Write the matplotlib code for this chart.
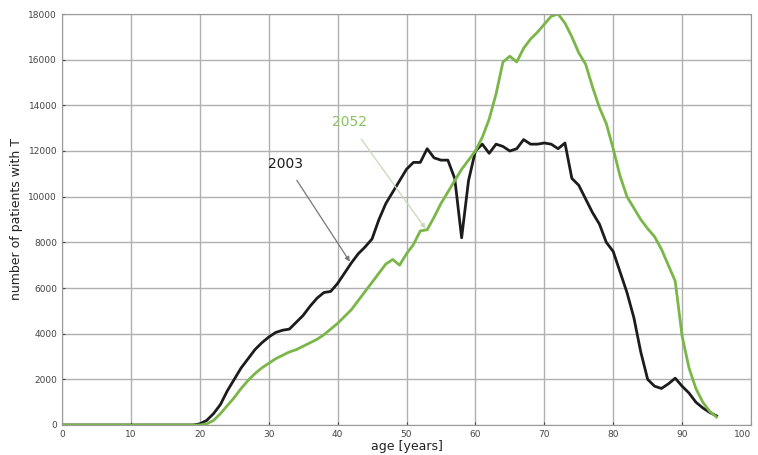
import numpy as np
import matplotlib
matplotlib.use("Agg")
import matplotlib.pyplot as plt

# ages 0..95 (one value per year)
age = np.arange(0, 96)

patients_2003 = [0] * 20 + [
    50, 200, 500, 900, 1500, 2000, 2500, 2900, 3300, 3600,      # 20-29
    3850, 4050, 4150, 4200, 4500, 4800, 5200, 5550, 5800, 5850,  # 30-39
    6200, 6650, 7100, 7500, 7800, 8150, 9000, 9700, 10200, 10700,  # 40-49
    11200, 11500, 11500, 12100, 11700, 11600, 11600, 10800, 8200, 10700,  # 50-59
    12000, 12300, 11900, 12300, 12200, 12000, 12100, 12500, 12300, 12300,  # 60-69
    12350, 12300, 12100, 12350, 10800, 10500, 9900, 9300, 8800, 8000,  # 70-79
    7600, 6700, 5800, 4700, 3200, 2000, 1700, 1600, 1800, 2050,  # 80-89
    1700, 1400, 1000, 750, 550, 400,                             # 90-95
]

patients_2052 = [0] * 20 + [
    0, 50, 200, 500, 850, 1200, 1600, 1950, 2250, 2500,          # 20-29
    2700, 2900, 3050, 3200, 3300, 3450, 3600, 3750, 3950, 4200,  # 30-39
    4450, 4750, 5050, 5450, 5850, 6250, 6650, 7050, 7250, 7000,  # 40-49
    7500, 7900, 8500, 8550, 9100, 9700, 10200, 10700, 11200, 11600,  # 50-59
    12000, 12600, 13400, 14500, 15900, 16150, 15900, 16500, 16900, 17200,  # 60-69
    17550, 17900, 18000, 17600, 17000, 16300, 15800, 14800, 13900, 13200,  # 70-79
    12100, 10900, 10000, 9500, 9000, 8600, 8250, 7700, 7000, 6300,  # 80-89
    3900, 2500, 1600, 1000, 600, 350,                            # 90-95
]

fig = plt.figure(figsize=(7.58, 4.55), dpi=100)
ax = fig.add_axes([62 / 758, 1 - 425 / 455, (751 - 62) / 758, (425 - 14) / 455])

ax.plot(age, patients_2003, color="#1c1c1c", lw=2)
ax.plot(age, patients_2052, color="#7ab648", lw=2)

ax.set_xlim(0, 100)
ax.set_ylim(0, 18000)
ax.set_xticks(range(0, 101, 10))
ax.set_yticks(range(0, 18001, 2000))
ax.grid(True, color="#b0b0b0", lw=1)
ax.set_axisbelow(True)
for s in ax.spines.values():
    s.set_color("#999999")
ax.tick_params(labelsize=6.5, colors="#444444", length=2, direction="in")
# keep the last x label inside the figure
ax.get_xticklabels()[-1].set_horizontalalignment("right")
ax.set_xlabel("age [years]", fontsize=9, color="#222222", labelpad=1)
ax.set_ylabel("number of patients with T", fontsize=9, color="#222222", labelpad=4)

ax.annotate("2003", xy=(42.0, 7050), xytext=(32.5, 11450), fontsize=10,
            color="#1c1c1c", ha="center", va="center",
            arrowprops=dict(arrowstyle="-|>", color="#777777", lw=0.9,
                            shrinkA=6, mutation_scale=7))
ax.annotate("2052", xy=(53.0, 8500), xytext=(41.7, 13250), fontsize=10,
            color="#8cc060", ha="center", va="center",
            arrowprops=dict(arrowstyle="-|>", color="#c8d8b8", lw=0.9,
                            shrinkA=6, mutation_scale=7))

fig.savefig("out.png", dpi=100)
